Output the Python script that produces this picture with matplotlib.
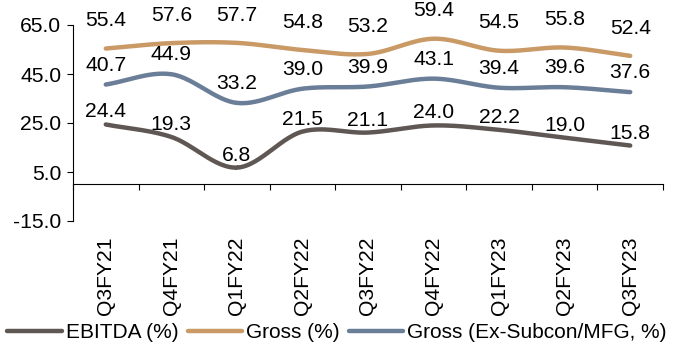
import numpy as np
import matplotlib
matplotlib.use("Agg")
import matplotlib.pyplot as plt

plt.rcParams['font.family'] = ['Liberation Sans', 'DejaVu Sans']

quarters = ['Q3FY21', 'Q4FY21', 'Q1FY22', 'Q2FY22', 'Q3FY22',
            'Q4FY22', 'Q1FY23', 'Q2FY23', 'Q3FY23']
ebitda = [24.4, 19.3, 6.8, 21.5, 21.1, 24.0, 22.2, 19.0, 15.8]
gross = [55.4, 57.6, 57.7, 54.8, 53.2, 59.4, 54.5, 55.8, 52.4]
gross_ex = [40.7, 44.9, 33.2, 39.0, 39.9, 43.1, 39.4, 39.6, 37.6]
yticks = [-15, 5, 25, 45, 65]


def smooth(x, y, n=30):
    # catmull-rom, roughly what excel does for "smoothed line"
    x = np.asarray(x, float)
    y = np.asarray(y, float)
    px = np.concatenate([[2 * x[0] - x[1]], x, [2 * x[-1] - x[-2]]])
    py = np.concatenate([[2 * y[0] - y[1]], y, [2 * y[-1] - y[-2]]])
    xs, ys = [], []
    t = np.linspace(0, 1, n)
    for i in range(1, len(px) - 2):
        for p, out in ((px, xs), (py, ys)):
            p0, p1, p2, p3 = p[i - 1], p[i], p[i + 1], p[i + 2]
            out.append(0.5 * ((2 * p1) + (-p0 + p2) * t
                              + (2 * p0 - 5 * p1 + 4 * p2 - p3) * t ** 2
                              + (-p0 + 3 * p1 - 3 * p2 + p3) * t ** 3))
    return np.concatenate(xs), np.concatenate(ys)


FS = 15.2

fig = plt.figure(figsize=(6.79, 3.45), dpi=100)
ax = fig.add_axes([73 / 679, 1 - 221 / 345, 590 / 679, 196 / 345])

x = np.arange(len(quarters))
series = [
    (ebitda, 'EBITDA (%)', '#5f5753', 9),
    (gross, 'Gross (%)', '#c99a66', 20),
    (gross_ex, 'Gross (Ex-Subcon/MFG, %)', '#6b7e98', 14),
]
handles = []
for vals, name, col, off in series:
    sx, sy = smooth(x, vals)
    ln, = ax.plot(sx, sy, color=col, lw=3.2, solid_capstyle='round', label=name)
    handles.append(ln)
    for xi, v in zip(x, vals):
        ax.annotate(f'{v:.1f}', (xi, v), xytext=(0, off), textcoords='offset points',
                    ha='center', va='center', fontsize=FS, clip_on=False)

ax.set_xlim(-0.5, len(quarters) - 0.5)
ax.set_ylim(-15, 65)
ax.set_yticks(yticks)
ax.set_yticklabels([f'{v:.1f}' for v in yticks])
ax.tick_params(axis='y', labelsize=FS, length=4.5, width=0.8, pad=4)

for s in ['top', 'right']:
    ax.spines[s].set_visible(False)
ax.spines['bottom'].set_position(('data', 0))
ax.spines['left'].set_linewidth(0.8)
ax.spines['bottom'].set_linewidth(0.8)
ax.set_xticks(np.arange(-0.5, len(quarters)))
ax.set_xticklabels([])
ax.tick_params(axis='x', length=4.5, width=0.8, direction='out')

sec = ax.secondary_xaxis(0)
sec.set_xticks(x)
sec.set_xticklabels(quarters, rotation=90, fontsize=FS)
sec.tick_params(length=0, pad=11)
sec.spines['bottom'].set_visible(False)

fig.legend(handles=handles, loc='center left', bbox_to_anchor=(0.011, 1 - 333 / 345),
           ncol=3, frameon=False, fontsize=15, handlelength=2.6, handletextpad=0.2,
           columnspacing=0.45, borderpad=0, borderaxespad=0)

fig.savefig('out.png', dpi=100)
